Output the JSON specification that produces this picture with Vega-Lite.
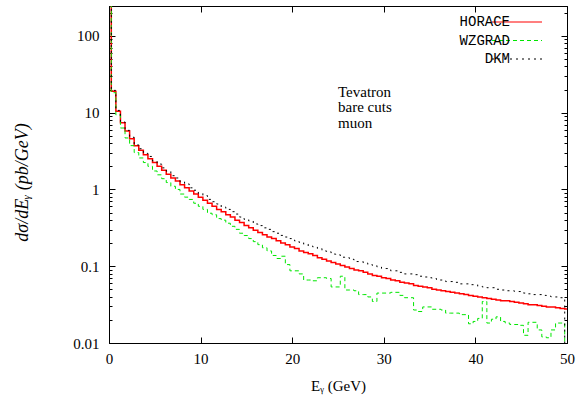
{
  "$schema": "https://vega.github.io/schema/vega-lite/v6.json",
  "autosize": "none",
  "padding": {"left": 109, "top": 6, "right": 12, "bottom": 66},
  "width": 458,
  "height": 337,
  "background": "white",
  "data": {"values": [
    {"E":0,"HORACE":300,"WZGRAD":300,"DKM":300},
    {"E":0.25,"HORACE":19.05,"WZGRAD":18.2,"DKM":19.5},
    {"E":0.75,"HORACE":10.47,"WZGRAD":9.33,"DKM":10.7},
    {"E":1.25,"HORACE":7.41,"WZGRAD":6.31,"DKM":7.58},
    {"E":1.75,"HORACE":5.75,"WZGRAD":4.68,"DKM":5.88},
    {"E":2.25,"HORACE":4.57,"WZGRAD":3.72,"DKM":4.78},
    {"E":2.75,"HORACE":3.72,"WZGRAD":3.02,"DKM":3.8},
    {"E":3.25,"HORACE":3.24,"WZGRAD":2.57,"DKM":3.39},
    {"E":3.75,"HORACE":2.82,"WZGRAD":2.24,"DKM":2.95},
    {"E":4.25,"HORACE":2.51,"WZGRAD":2.0,"DKM":2.69},
    {"E":4.75,"HORACE":2.24,"WZGRAD":1.74,"DKM":2.35},
    {"E":5.25,"HORACE":2.0,"WZGRAD":1.55,"DKM":2.14},
    {"E":5.75,"HORACE":1.78,"WZGRAD":1.38,"DKM":1.91},
    {"E":6.25,"HORACE":1.58,"WZGRAD":1.23,"DKM":1.73},
    {"E":6.75,"HORACE":1.41,"WZGRAD":1.1,"DKM":1.51},
    {"E":7.25,"HORACE":1.29,"WZGRAD":1.0,"DKM":1.41},
    {"E":7.75,"HORACE":1.15,"WZGRAD":0.871,"DKM":1.26},
    {"E":8.25,"HORACE":1.05,"WZGRAD":0.794,"DKM":1.18},
    {"E":8.75,"HORACE":0.955,"WZGRAD":0.741,"DKM":1.05},
    {"E":9.25,"HORACE":0.871,"WZGRAD":0.661,"DKM":0.977},
    {"E":9.75,"HORACE":0.794,"WZGRAD":0.603,"DKM":0.891},
    {"E":10.25,"HORACE":0.724,"WZGRAD":0.55,"DKM":0.831},
    {"E":10.75,"HORACE":0.661,"WZGRAD":0.49,"DKM":0.742},
    {"E":11.25,"HORACE":0.603,"WZGRAD":0.468,"DKM":0.692},
    {"E":11.75,"HORACE":0.55,"WZGRAD":0.417,"DKM":0.646},
    {"E":12.25,"HORACE":0.513,"WZGRAD":0.398,"DKM":0.589},
    {"E":12.75,"HORACE":0.468,"WZGRAD":0.363,"DKM":0.55},
    {"E":13.25,"HORACE":0.437,"WZGRAD":0.331,"DKM":0.513},
    {"E":13.75,"HORACE":0.398,"WZGRAD":0.302,"DKM":0.478},
    {"E":14.25,"HORACE":0.372,"WZGRAD":0.269,"DKM":0.437},
    {"E":14.75,"HORACE":0.339,"WZGRAD":0.251,"DKM":0.407},
    {"E":15.25,"HORACE":0.316,"WZGRAD":0.229,"DKM":0.389},
    {"E":15.75,"HORACE":0.295,"WZGRAD":0.209,"DKM":0.355},
    {"E":16.25,"HORACE":0.275,"WZGRAD":0.191,"DKM":0.338},
    {"E":16.75,"HORACE":0.257,"WZGRAD":0.174,"DKM":0.316},
    {"E":17.25,"HORACE":0.24,"WZGRAD":0.158,"DKM":0.302},
    {"E":17.75,"HORACE":0.229,"WZGRAD":0.138,"DKM":0.282},
    {"E":18.25,"HORACE":0.214,"WZGRAD":0.126,"DKM":0.269},
    {"E":18.75,"HORACE":0.2,"WZGRAD":0.135,"DKM":0.252},
    {"E":19.25,"HORACE":0.191,"WZGRAD":0.105,"DKM":0.24},
    {"E":19.75,"HORACE":0.178,"WZGRAD":0.0871,"DKM":0.229},
    {"E":20.25,"HORACE":0.17,"WZGRAD":0.0871,"DKM":0.214},
    {"E":20.75,"HORACE":0.158,"WZGRAD":0.0794,"DKM":0.204},
    {"E":21.25,"HORACE":0.151,"WZGRAD":0.0661,"DKM":0.194},
    {"E":21.75,"HORACE":0.145,"WZGRAD":0.0661,"DKM":0.183},
    {"E":22.25,"HORACE":0.138,"WZGRAD":0.0646,"DKM":0.178},
    {"E":22.75,"HORACE":0.129,"WZGRAD":0.0708,"DKM":0.17},
    {"E":23.25,"HORACE":0.123,"WZGRAD":0.0708,"DKM":0.158},
    {"E":23.75,"HORACE":0.117,"WZGRAD":0.0692,"DKM":0.154},
    {"E":24.25,"HORACE":0.112,"WZGRAD":0.0537,"DKM":0.144},
    {"E":24.75,"HORACE":0.107,"WZGRAD":0.0537,"DKM":0.141},
    {"E":25.25,"HORACE":0.102,"WZGRAD":0.0741,"DKM":0.131},
    {"E":25.75,"HORACE":0.0977,"WZGRAD":0.049,"DKM":0.129},
    {"E":26.25,"HORACE":0.0933,"WZGRAD":0.049,"DKM":0.123},
    {"E":26.75,"HORACE":0.0891,"WZGRAD":0.0479,"DKM":0.115},
    {"E":27.25,"HORACE":0.0871,"WZGRAD":0.0427,"DKM":0.115},
    {"E":27.75,"HORACE":0.0832,"WZGRAD":0.0427,"DKM":0.11},
    {"E":28.25,"HORACE":0.0794,"WZGRAD":0.0398,"DKM":0.105},
    {"E":28.75,"HORACE":0.0759,"WZGRAD":0.0347,"DKM":0.102},
    {"E":29.25,"HORACE":0.0741,"WZGRAD":0.0447,"DKM":0.0977},
    {"E":29.75,"HORACE":0.0708,"WZGRAD":0.0447,"DKM":0.0933},
    {"E":30.25,"HORACE":0.0692,"WZGRAD":0.0447,"DKM":0.0933},
    {"E":30.75,"HORACE":0.0661,"WZGRAD":0.0457,"DKM":0.0871},
    {"E":31.25,"HORACE":0.0646,"WZGRAD":0.0457,"DKM":0.0871},
    {"E":31.75,"HORACE":0.0617,"WZGRAD":0.0417,"DKM":0.0832},
    {"E":32.25,"HORACE":0.0603,"WZGRAD":0.0389,"DKM":0.0794},
    {"E":32.75,"HORACE":0.0589,"WZGRAD":0.0389,"DKM":0.0794},
    {"E":33.25,"HORACE":0.0562,"WZGRAD":0.0269,"DKM":0.0776},
    {"E":33.75,"HORACE":0.055,"WZGRAD":0.0257,"DKM":0.0741},
    {"E":34.25,"HORACE":0.0537,"WZGRAD":0.0295,"DKM":0.0724},
    {"E":34.75,"HORACE":0.0525,"WZGRAD":0.0295,"DKM":0.0708},
    {"E":35.25,"HORACE":0.0501,"WZGRAD":0.0275,"DKM":0.0692},
    {"E":35.75,"HORACE":0.049,"WZGRAD":0.0275,"DKM":0.0661},
    {"E":36.25,"HORACE":0.0479,"WZGRAD":0.0269,"DKM":0.0661},
    {"E":36.75,"HORACE":0.0468,"WZGRAD":0.0245,"DKM":0.0631},
    {"E":37.25,"HORACE":0.0457,"WZGRAD":0.0245,"DKM":0.0631},
    {"E":37.75,"HORACE":0.0447,"WZGRAD":0.0245,"DKM":0.0617},
    {"E":38.25,"HORACE":0.0437,"WZGRAD":0.0234,"DKM":0.0589},
    {"E":38.75,"HORACE":0.0427,"WZGRAD":0.0234,"DKM":0.0589},
    {"E":39.25,"HORACE":0.0417,"WZGRAD":0.0178,"DKM":0.0575},
    {"E":39.75,"HORACE":0.0407,"WZGRAD":0.0191,"DKM":0.0575},
    {"E":40.25,"HORACE":0.0398,"WZGRAD":0.0209,"DKM":0.055},
    {"E":40.75,"HORACE":0.0389,"WZGRAD":0.0347,"DKM":0.0537},
    {"E":41.25,"HORACE":0.038,"WZGRAD":0.0182,"DKM":0.0525},
    {"E":41.75,"HORACE":0.0372,"WZGRAD":0.0204,"DKM":0.0525},
    {"E":42.25,"HORACE":0.0363,"WZGRAD":0.0219,"DKM":0.0501},
    {"E":42.75,"HORACE":0.0355,"WZGRAD":0.0191,"DKM":0.049},
    {"E":43.25,"HORACE":0.0355,"WZGRAD":0.0182,"DKM":0.0479},
    {"E":43.75,"HORACE":0.0347,"WZGRAD":0.0174,"DKM":0.0479},
    {"E":44.25,"HORACE":0.0339,"WZGRAD":0.0174,"DKM":0.0468},
    {"E":44.75,"HORACE":0.0331,"WZGRAD":0.017,"DKM":0.0468},
    {"E":45.25,"HORACE":0.0324,"WZGRAD":0.0126,"DKM":0.0447},
    {"E":45.75,"HORACE":0.0316,"WZGRAD":0.0186,"DKM":0.0437},
    {"E":46.25,"HORACE":0.0316,"WZGRAD":0.0186,"DKM":0.0427},
    {"E":46.75,"HORACE":0.0309,"WZGRAD":0.0148,"DKM":0.0427},
    {"E":47.25,"HORACE":0.0302,"WZGRAD":0.012,"DKM":0.0417},
    {"E":47.75,"HORACE":0.0295,"WZGRAD":0.0117,"DKM":0.0407},
    {"E":48.25,"HORACE":0.0295,"WZGRAD":0.0148,"DKM":0.0398},
    {"E":48.75,"HORACE":0.0288,"WZGRAD":0.0182,"DKM":0.0398},
    {"E":49.25,"HORACE":0.0282,"WZGRAD":0.0182,"DKM":0.0389},
    {"E":49.75,"HORACE":0.0278,"WZGRAD":0.001,"DKM":0.001},
    {"E":50,"HORACE":0.0278,"WZGRAD":0.001,"DKM":0.001}
  ]},
  "layer": [
    {
      "transform": [{"fold": ["HORACE", "WZGRAD", "DKM"], "as": ["series", "value"]}, {"filter": "datum.series == 'HORACE'"}],
      "mark": {"type": "line", "interpolate": "step-after", "clip": true, "strokeWidth": 1.5},
      "encoding": {
        "x": {"field": "E", "type": "quantitative", "scale": {"domain": [0, 50], "nice": false, "zero": false},
          "axis": {"orient": "bottom", "values": [0, 10, 20, 30, 40, 50], "tickSize": -6, "labelPadding": 14, "labelFlush": false, "title": "E\u1d67 (GeV)", "titlePadding": 12}},
        "y": {"field": "value", "type": "quantitative", "scale": {"type": "log", "domain": [0.01, 245], "nice": false},
          "axis": {"orient": "left",
            "values": [0.01,0.02,0.03,0.04,0.05,0.06,0.07,0.08,0.09,0.1,0.2,0.3,0.4,0.5,0.6,0.7,0.8,0.9,1,2,3,4,5,6,7,8,9,10,20,30,40,50,60,70,80,90,100,200],
            "format": "~g",
            "labelExpr": "(datum.value == 0.01 || datum.value == 0.1 || datum.value == 1 || datum.value == 10 || datum.value == 100) ? datum.label : ''",
            "tickSize": {"condition": {"test": "datum.value == 0.01 || datum.value == 0.1 || datum.value == 1 || datum.value == 10 || datum.value == 100", "value": -6}, "value": -3},
            "labelPadding": 16,
            "labelOverlap": false,
            "labelFlush": false,
            "title": "d\u03c3/dE\u1d67 (pb/GeV)",
            "titleFontStyle": "italic",
            "titleFontSize": 18,
            "titleAngle": -90,
            "titleX": -87,
            "titleY": 176,
            "titleAlign": "center",
            "titleBaseline": "middle"}},
        "color": {"field": "series", "type": "nominal", "title": null, "scale": {"domain": ["HORACE", "WZGRAD", "DKM"], "range": ["#ff0000", "#00e600", "#000000"]}},
        "strokeDash": {"field": "series", "type": "nominal", "title": null, "scale": {"domain": ["HORACE", "WZGRAD", "DKM"], "range": [[1, 0], [4, 3], [2, 4]]}}
      }
    },
    {
      "transform": [{"fold": ["HORACE", "WZGRAD", "DKM"], "as": ["series", "value"]}, {"filter": "datum.series == 'WZGRAD'"}],
      "mark": {"type": "line", "interpolate": "step-after", "clip": true, "strokeWidth": 1},
      "encoding": {
        "x": {"field": "E", "type": "quantitative", "scale": {"domain": [0, 50], "nice": false, "zero": false},
          "axis": {"orient": "top", "values": [0, 10, 20, 30, 40, 50], "tickSize": -6, "labels": false, "title": null}},
        "y": {"field": "value", "type": "quantitative", "scale": {"type": "log", "domain": [0.01, 245], "nice": false},
          "axis": {"orient": "right",
            "values": [0.01,0.02,0.03,0.04,0.05,0.06,0.07,0.08,0.09,0.1,0.2,0.3,0.4,0.5,0.6,0.7,0.8,0.9,1,2,3,4,5,6,7,8,9,10,20,30,40,50,60,70,80,90,100,200],
            "labels": false, "title": null,
            "tickSize": {"condition": {"test": "datum.value == 0.01 || datum.value == 0.1 || datum.value == 1 || datum.value == 10 || datum.value == 100", "value": -6}, "value": -3}}},
        "color": {"field": "series", "type": "nominal", "title": null, "scale": {"domain": ["HORACE", "WZGRAD", "DKM"], "range": ["#ff0000", "#00e600", "#000000"]}},
        "strokeDash": {"field": "series", "type": "nominal", "title": null, "scale": {"domain": ["HORACE", "WZGRAD", "DKM"], "range": [[1, 0], [4, 3], [2, 4]]}}
      }
    },
    {
      "transform": [{"fold": ["HORACE", "WZGRAD", "DKM"], "as": ["series", "value"]}, {"filter": "datum.series == 'DKM'"}],
      "mark": {"type": "line", "interpolate": "step-after", "clip": true, "strokeWidth": 1},
      "encoding": {
        "x": {"field": "E", "type": "quantitative", "axis": null},
        "y": {"field": "value", "type": "quantitative", "axis": null},
        "color": {"field": "series", "type": "nominal", "title": null, "scale": {"domain": ["HORACE", "WZGRAD", "DKM"], "range": ["#ff0000", "#00e600", "#000000"]}},
        "strokeDash": {"field": "series", "type": "nominal", "title": null, "scale": {"domain": ["HORACE", "WZGRAD", "DKM"], "range": [[1, 0], [4, 3], [2, 4]]}}
      }
    },
    {
      "data": {"values": [{"note": "Tevatron\nbare cuts\nmuon"}]},
      "mark": {"type": "text", "align": "left", "baseline": "top", "lineBreak": "\n", "lineHeight": 15.5, "font": "Liberation Serif", "fontSize": 15, "fill": "black"},
      "encoding": {
        "x": {"datum": 25, "type": "quantitative", "axis": null},
        "y": {"datum": 23, "type": "quantitative", "axis": null},
        "text": {"field": "note", "type": "nominal"}
      }
    }
  ],
  "resolve": {"axis": {"x": "independent", "y": "independent"}},
  "config": {
    "view": {"stroke": "black", "strokeWidth": 1},
    "axis": {"grid": false, "domainColor": "black", "domainWidth": 1, "tickColor": "black", "tickWidth": 1,
      "labelColor": "black", "labelFont": "Liberation Serif", "labelFontSize": 15,
      "titleFont": "Liberation Serif", "titleFontSize": 15, "titleFontWeight": "normal", "titleColor": "black"},
    "legend": {"orient": "none", "legendX": 401, "legendY": 9, "symbolType": "M-5,0H5", "symbolSize": 100,
      "symbolStrokeWidth": 1.2, "labelAlign": "right", "labelOffset": -14, "labelFont": "Liberation Mono",
      "labelFontSize": 14, "labelColor": "black", "rowPadding": 4.5, "labelLimit": 0, "padding": 0}
  }
}
